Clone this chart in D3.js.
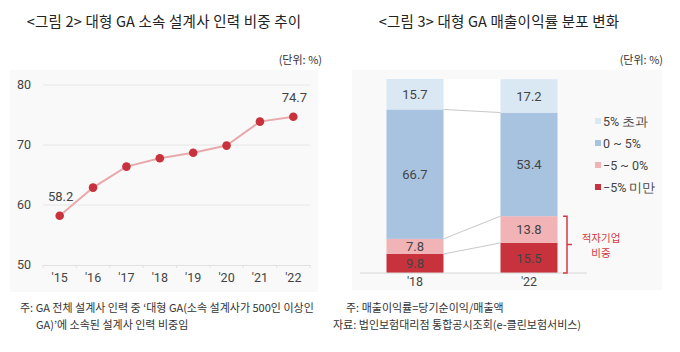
<!DOCTYPE html>
<html>
<head>
<meta charset="utf-8">
<script src="https://cdn.jsdelivr.net/npm/d3@7"></script>
<style>
  body { margin: 0; background: #fff; }
  svg { display: block; font-family: "Noto Sans CJK KR", "Noto Sans", sans-serif; }
  .title { font-size: 14.5px; fill: #222; font-weight: 400; letter-spacing: 0.2px; }
  .unit, .note { font-size: 11px; fill: #333; }
  .tick-label { font-size: 12.5px; fill: #444; font-family: Roboto, "Noto Sans", sans-serif; }
</style>
</head>
<body>
<svg class="main" width="680" height="352"></svg>
<script>
(function () {
  'use strict';

  // left chart: share of agents in large GAs
  const years = ["'15", "'16", "'17", "'18", "'19", "'20", "'21", "'22"];
  const agentShare = [58.2, 62.9, 66.4, 67.8, 68.7, 69.9, 73.9, 74.7];
  const yTicks = [50, 60, 70, 80];

  // right chart: profit-margin distribution
  const periods = ["'18", "'22"];
  const bands = ["-5% 미만", "-5 ~ 0%", "0 ~ 5%", "5% 초과"];
  const bandValues = {
    "'18": [9.8, 7.8, 66.7, 15.7],
    "'22": [15.5, 13.8, 53.4, 17.2]
  };
  const bandColors = ["#c8323c", "#f1b3b6", "#a8c3df", "#dae8f4"];
  const bandTextColors = ["#fff", "#333", "#333", "#333"];

  const svg = d3.select("svg.main");

  // faint panel backgrounds
  svg.append("rect").attr("x", 10).attr("y", 70).attr("width", 308).attr("height", 222).attr("fill", "#f9f9f9");
  svg.append("rect").attr("x", 352).attr("y", 70).attr("width", 310).attr("height", 220).attr("fill", "#f9f9f9");

  // ---------- left chart ----------
  const left = svg.append("g");

  left.append("text").attr("class", "title").attr("x", 164).attr("y", 27)
    .attr("text-anchor", "middle").text("<그림 2> 대형 GA 소속 설계사 인력 비중 추이");
  left.append("text").attr("class", "unit").attr("x", 322).attr("y", 64)
    .attr("text-anchor", "end").text("(단위: %)");

  const x = d3.scaleBand().domain(years).range([43, 310]);
  const y = d3.scaleLinear().domain([50, 80]).range([265, 85]);

  left.append("g").selectAll("line").data(yTicks.slice(1)).join("line")
    .attr("x1", 43).attr("x2", 310)
    .attr("y1", d => y(d)).attr("y2", d => y(d))
    .attr("stroke", "#e6e6e6");

  left.append("g").selectAll("text").data(yTicks).join("text")
    .attr("class", "tick-label").attr("x", 17).attr("y", d => y(d)).attr("dy", "0.35em")
    .text(d => d);

  const xAxis = left.append("g").attr("transform", `translate(0,${y(50)})`)
    .call(d3.axisBottom(x).tickSize(0).tickPadding(8));
  xAxis.select(".domain").attr("stroke", "#e0e0e0");
  xAxis.selectAll("text").attr("class", "tick-label").attr("fill", null).style("font-size", "12.5px");
  // small separators between categories
  left.append("g").selectAll("line").data(years.concat(["end"])).join("line")
    .attr("x1", (d, i) => 43 + i * x.bandwidth()).attr("x2", (d, i) => 43 + i * x.bandwidth())
    .attr("y1", y(50)).attr("y2", y(50) + 3).attr("stroke", "#e0e0e0");

  const cx = d => x(d) + x.bandwidth() / 2;
  left.append("path")
    .datum(agentShare)
    .attr("d", d3.line().x((d, i) => cx(years[i])).y(d => y(d)))
    .attr("fill", "none").attr("stroke", "#e9a9ab").attr("stroke-width", 2);

  left.append("g").selectAll("circle").data(agentShare).join("circle")
    .attr("cx", (d, i) => cx(years[i])).attr("cy", d => y(d)).attr("r", 4.3)
    .attr("fill", "#c8323c");

  [0, agentShare.length - 1].forEach(i => {
    left.append("text").attr("class", "tick-label").style("font-size", "13px")
      .attr("x", cx(years[i]) + 1).attr("y", y(agentShare[i]) - 15)
      .attr("text-anchor", "middle").text(agentShare[i].toFixed(1));
  });

  left.append("text").attr("class", "note").attr("x", 20).attr("y", 312)
    .text("주: GA 전체 설계사 인력 중 ‘대형 GA(소속 설계사가 500인 이상인");
  left.append("text").attr("class", "note").attr("x", 36).attr("y", 329)
    .text("GA)’에 소속된 설계사 인력 비중임");

  // ---------- right chart ----------
  const right = svg.append("g");

  right.append("text").attr("class", "title").attr("x", 499).attr("y", 27)
    .attr("text-anchor", "middle").text("<그림 3> 대형 GA 매출이익률 분포 변화");
  right.append("text").attr("class", "unit").attr("x", 663).attr("y", 64)
    .attr("text-anchor", "end").text("(단위: %)");

  const xb = d3.scaleBand().domain(periods).range([358, 586]).paddingInner(0.5).paddingOuter(0.25);
  const yb = d3.scaleLinear().domain([0, 100]).range([273, 79]);

  const stacked = d3.stack().keys(d3.range(bands.length))
    .value((p, k) => bandValues[p][k])(periods);

  // white gap between the two bars
  right.append("rect")
    .attr("x", xb(periods[0]) + xb.bandwidth()).attr("y", yb(100))
    .attr("width", xb(periods[1]) - xb(periods[0]) - xb.bandwidth())
    .attr("height", yb(0) - yb(100)).attr("fill", "#fff");

  stacked.forEach((layer, k) => {
    right.append("g").selectAll("rect").data(layer).join("rect")
      .attr("x", d => xb(d.data)).attr("width", xb.bandwidth())
      .attr("y", d => yb(d[1])).attr("height", d => yb(d[0]) - yb(d[1]))
      .attr("fill", bandColors[k]);
    right.append("g").selectAll("text").data(layer).join("text")
      .attr("class", "tick-label").style("font-size", "13px")
      .attr("fill", bandTextColors[k])
      .attr("x", d => xb(d.data) + xb.bandwidth() / 2)
      .attr("y", d => (yb(d[0]) + yb(d[1])) / 2).attr("dy", "0.36em")
      .attr("text-anchor", "middle")
      .text((d, i) => bandValues[periods[i]][k].toFixed(1));
  });

  // connector lines between the bars
  stacked.slice(0, 3).forEach(layer => {
    right.append("line")
      .attr("x1", xb(periods[0]) + xb.bandwidth()).attr("y1", yb(layer[0][1]))
      .attr("x2", xb(periods[1])).attr("y2", yb(layer[1][1]))
      .attr("stroke", "#c8c8c8").attr("stroke-width", 1);
  });

  right.append("line").attr("x1", 360).attr("x2", 587)
    .attr("y1", yb(0)).attr("y2", yb(0)).attr("stroke", "#d6d6d6");

  right.append("g").selectAll("text").data(periods).join("text")
    .attr("class", "tick-label").attr("x", d => xb(d) + xb.bandwidth() / 2)
    .attr("y", 282).attr("dy", "0.35em").attr("text-anchor", "middle").text(d => d);

  // legend (top item first)
  const legend = right.append("g");
  bands.slice().reverse().forEach((b, i) => {
    const k = bands.length - 1 - i;
    const ly = 121 + i * 22;
    legend.append("rect").attr("x", 595).attr("y", ly - 3).attr("width", 6).attr("height", 6)
      .attr("fill", bandColors[k]);
    legend.append("text").attr("class", "tick-label").attr("x", 603).attr("y", ly)
      .attr("dy", "0.36em").style("font-size", "12.5px").text(b.replace("-", "−"));
  });

  // bracket marking loss-making share
  const lossTop = yb(stacked[1][1][1]);
  const bx = 563;
  right.append("path")
    .attr("d", `M${bx},${lossTop} H${bx + 4} V${yb(0)} H${bx}`
      + ` M${bx + 4},${(lossTop + yb(0)) / 2} H${bx + 9}`)
    .attr("fill", "none").attr("stroke", "#d43a44").attr("stroke-width", 1.5);
  right.append("text").attr("x", 601).attr("y", 242).attr("text-anchor", "middle")
    .attr("fill", "#d43a44").style("font-size", "10.5px").text("적자기업");
  right.append("text").attr("x", 601).attr("y", 257).attr("text-anchor", "middle")
    .attr("fill", "#d43a44").style("font-size", "10.5px").text("비중");

  right.append("text").attr("class", "note").attr("x", 346).attr("y", 312)
    .text("주:  매출이익률=당기순이익/매출액");
  right.append("text").attr("class", "note").attr("x", 333).attr("y", 329)
    .text("자료:  법인보험대리점 통합공시조회(e-클린보험서비스)");
}());
</script>
</body>
</html>
